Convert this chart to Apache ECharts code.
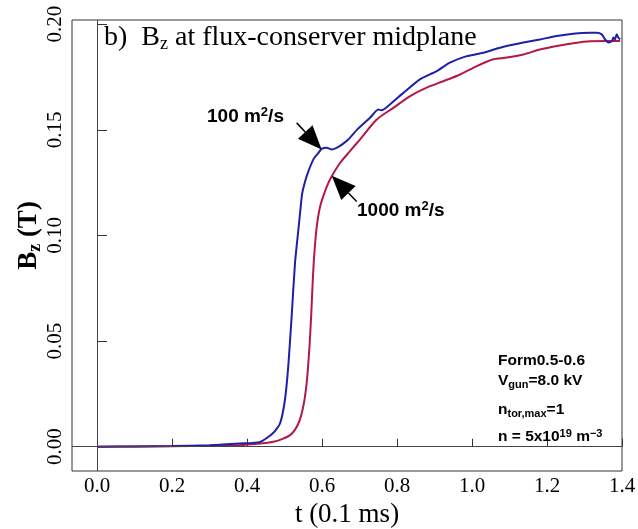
<!DOCTYPE html>
<html><head><meta charset="utf-8">
<script src="https://cdn.jsdelivr.net/npm/echarts@6/dist/echarts.min.js"></script>
<style>html,body{margin:0;padding:0;background:#fff}#c{width:638px;height:529px}</style>
</head><body><div id="c"></div>
<script>
// t (0.1 ms) and Bz (T) for the 100 m^2/s case
const blueT = [0,0.1,0.2,0.3,0.381,0.435,0.469,0.488,0.501,0.510,0.519,0.528,0.537,0.546,0.549,0.559,0.577,0.590,0.599,0.613,0.626,0.639,0.653,0.670,0.693,0.728,0.750,0.759,0.781,0.817,0.861,0.906,0.941,0.986,1.030,1.075,1.137,1.181,1.226,1.270,1.315,1.333,1.346,1.355,1.364,1.373,1.377,1.381,1.386,1.390,1.395];
const blueB = [0,0.0001,0.0003,0.0007,0.0015,0.0023,0.0064,0.011,0.022,0.038,0.0616,0.087,0.1027,0.1185,0.1215,0.128,0.136,0.139,0.141,0.1415,0.1407,0.1415,0.143,0.1454,0.150,0.1557,0.1596,0.1593,0.162,0.1675,0.1739,0.1778,0.1818,0.1849,0.1865,0.1889,0.1913,0.1928,0.1944,0.1955,0.196,0.196,0.1952,0.1928,0.1913,0.192,0.1937,0.1928,0.1952,0.1937,0.1928];
// 1000 m^2/s case
const redT = [0,0.2,0.3,0.381,0.470,0.515,0.537,0.550,0.559,0.566,0.571,0.575,0.579,0.585,0.595,0.613,0.626,0.648,0.675,0.701,0.746,0.790,0.835,0.879,0.923,0.968,1.013,1.057,1.093,1.137,1.181,1.226,1.270,1.315,1.359,1.395];
const redB = [0,0.0002,0.0004,0.0007,0.0023,0.0055,0.011,0.019,0.030,0.0458,0.0616,0.0774,0.090,0.1027,0.1137,0.1232,0.128,0.1343,0.140,0.1454,0.1549,0.1604,0.166,0.170,0.173,0.1762,0.1802,0.1834,0.1842,0.1857,0.188,0.1897,0.191,0.1919,0.192,0.192];
const xTicks = [0,0.2,0.4,0.6,0.8,1.0,1.2,1.4];
const yTicks = [0,0.05,0.10,0.15,0.20];
const seriesNames = ['1000 m2/s','100 m2/s'];

const chart = echarts.init(document.getElementById('c'), null, {renderer:'canvas'});
const serif = 'Liberation Serif';
const sans = 'Liberation Sans';
const zip = (a,b)=>a.map((v,i)=>[v,b[i]]);

chart.setOption({
  animation:false,
  backgroundColor:'#fff',
  grid:{left:72,right:16,top:20,bottom:58,show:true,borderColor:'#333',borderWidth:1,backgroundColor:'transparent',
    containLabel:false,outerBoundsMode:'none'},
  xAxis:{type:'value',min:-0.0667,max:1.4,
    axisLine:{show:false},splitLine:{show:false},
    axisTick:{show:true,inside:true,length:8,lineStyle:{color:'#333'},customValues:xTicks},
    axisLabel:{customValues:xTicks,formatter:v=>v.toFixed(1),fontFamily:serif,fontSize:21,color:'#000',margin:5},
    name:'t (0.1 ms)',nameLocation:'middle',nameGap:23,
    nameTextStyle:{fontFamily:serif,fontSize:27,color:'#000'}},
  yAxis:{type:'value',min:-0.0115,max:0.202,
    axisLine:{show:false},splitLine:{show:false},
    axisTick:{show:true,inside:true,length:10,lineStyle:{color:'#333'},customValues:yTicks},
    axisLabel:{customValues:yTicks,formatter:v=>v.toFixed(2),rotate:90,fontFamily:serif,fontSize:21,color:'#000',margin:6},
    name:'{b|B}{s|z}{b| (T)}',nameLocation:'middle',nameGap:28,nameMoveOverlap:false,
    nameTextStyle:{padding:[0,0,0,20],rich:{
      b:{fontFamily:serif,fontSize:27,fontWeight:'bold',color:'#000',lineHeight:30},
      s:{fontFamily:serif,fontSize:18,fontWeight:'bold',color:'#000',lineHeight:16,verticalAlign:'bottom'}}}},
  series:[
    {type:'line',data:[],z:1,markLine:{silent:true,symbol:'none',label:{show:false},
      lineStyle:{color:'#444',width:1,type:'solid'},data:[{xAxis:0},{yAxis:0}]}},
    {name:seriesNames[0],type:'line',data:zip(redT,redB),showSymbol:false,smooth:0.25,lineStyle:{color:'#b3174b',width:2},z:3},
    {name:seriesNames[1],type:'line',data:zip(blueT,blueB),showSymbol:false,smooth:0.2,lineStyle:{color:'#1f1fa8',width:2},z:4}
  ]
});

const arrows = [
  {tail:[0.5325,0.1533],tip:[0.599,0.1407]},
  {tail:[0.6925,0.1161],tip:[0.626,0.1283]}
];
function arrowEls(){
  const out=[];
  arrows.forEach((a,i)=>{
    const p0=chart.convertToPixel({gridIndex:0},a.tail);
    const p1=chart.convertToPixel({gridIndex:0},a.tip);
    const dx=p1[0]-p0[0],dy=p1[1]-p0[1],L=Math.hypot(dx,dy),ux=dx/L,uy=dy/L;
    const hl=24,hw=10,bx=p1[0]-ux*hl,by=p1[1]-uy*hl;
    out.push({type:'line',id:'al'+i,shape:{x1:p0[0],y1:p0[1],x2:bx,y2:by},style:{stroke:'#000',lineWidth:1.5},z:10});
    out.push({type:'polygon',id:'ah'+i,shape:{points:[[p1[0],p1[1]],[bx-uy*hw,by+ux*hw],[bx+uy*hw,by-ux*hw]]},style:{fill:'#000'},z:10});
  });
  return out;
}
const sansRich = {
  n:{fontFamily:sans,fontWeight:'bold',fontSize:15.5,color:'#000',lineHeight:18},
  sub:{fontFamily:sans,fontWeight:'bold',fontSize:11,color:'#000',lineHeight:10,verticalAlign:'bottom'},
  sup:{fontFamily:sans,fontWeight:'bold',fontSize:11,color:'#000',lineHeight:10,verticalAlign:'top'}
};
const annRich = {
  n:{fontFamily:sans,fontWeight:'bold',fontSize:19,color:'#000',lineHeight:22},
  sup:{fontFamily:sans,fontWeight:'bold',fontSize:13,color:'#000',lineHeight:12,verticalAlign:'top'}
};
const texts = [
  {type:'text',id:'title',x:104,y:38,style:{text:'{n|b)  B}{s|z}{n| at flux-conserver midplane}',verticalAlign:'middle',
    rich:{n:{fontFamily:serif,fontSize:28,color:'#000',lineHeight:30},s:{fontFamily:serif,fontSize:18,color:'#000',lineHeight:14,verticalAlign:'bottom'}}},z:10},
  {type:'text',id:'a1',x:207,y:117,style:{text:'{n|100 m}{sup|2}{n|/s}',verticalAlign:'middle',rich:annRich},z:10},
  {type:'text',id:'a2',x:357,y:211,style:{text:'{n|1000 m}{sup|2}{n|/s}',verticalAlign:'middle',rich:annRich},z:10},
  {type:'text',id:'t1',x:498,y:361,style:{text:'{n|Form0.5-0.6}',verticalAlign:'middle',rich:sansRich},z:10},
  {type:'text',id:'t2',x:498,y:381,style:{text:'{n|V}{sub|gun}{n|=8.0 kV}',verticalAlign:'middle',rich:sansRich},z:10},
  {type:'text',id:'t3',x:498,y:410,style:{text:'{n|n}{sub|tor,max}{n|=1}',verticalAlign:'middle',rich:sansRich},z:10},
  {type:'text',id:'t4',x:498,y:437,style:{text:'{n|n = 5x10}{sup|19}{n| m}{sup|\u22123}',verticalAlign:'middle',rich:sansRich},z:10}
];
chart.setOption({graphic:texts.concat(arrowEls())});
</script></body></html>
